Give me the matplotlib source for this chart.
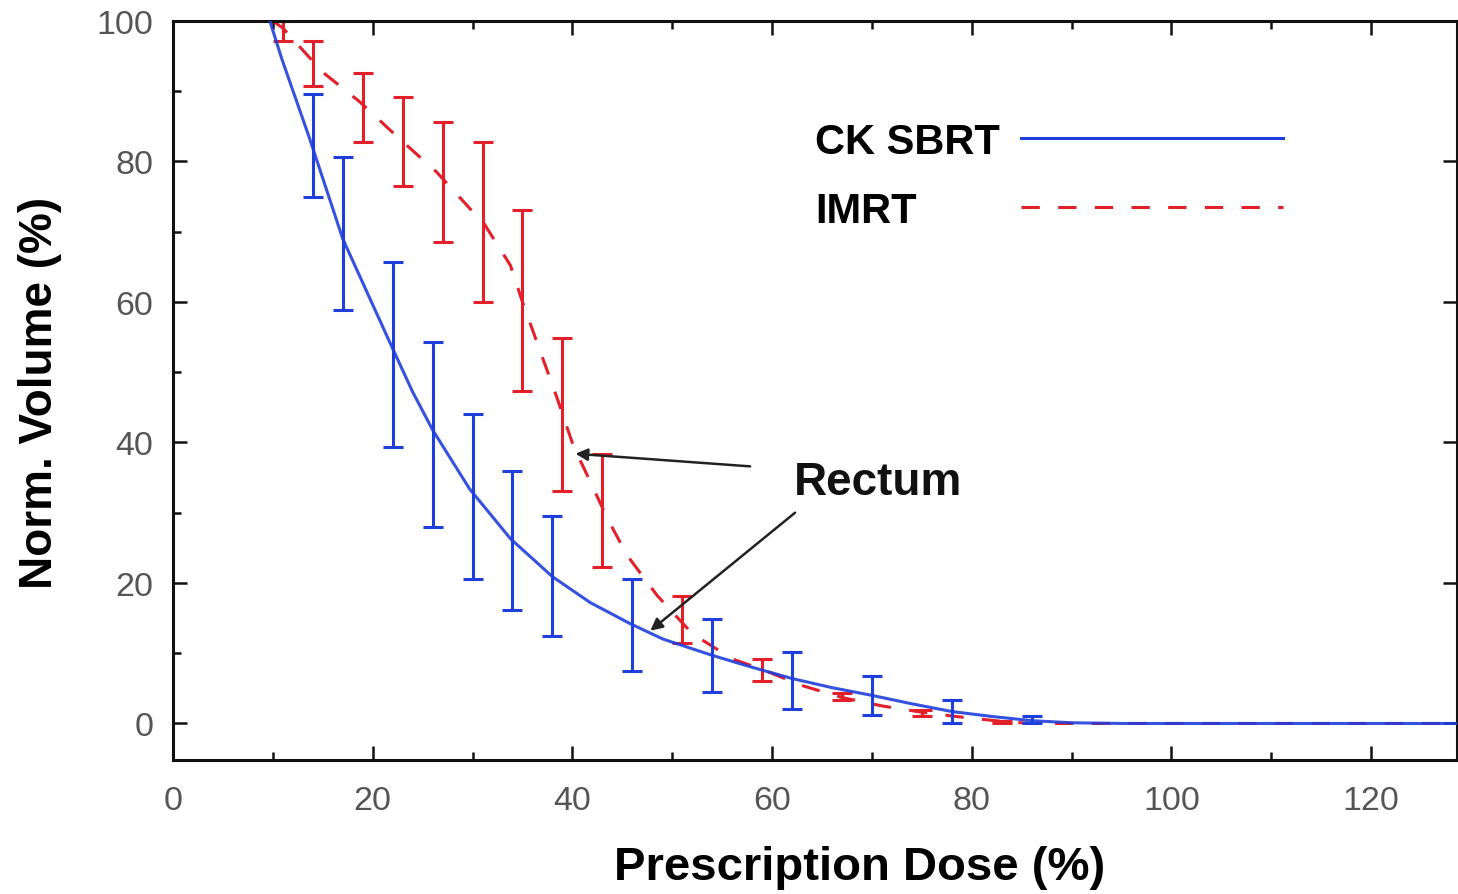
import matplotlib
matplotlib.use("Agg")
import matplotlib.pyplot as plt
import numpy as np

plt.rcParams['font.family'] = ['Liberation Sans', 'DejaVu Sans']

# ---- data ----
# CK SBRT mean DVH curve
ck_curve_x = [9.7, 10.9, 13.7, 17.0, 21.7, 24.0, 26.0, 29.7, 33.8, 38.0, 41.8, 45.8, 49.1, 54, 58, 62, 66, 70, 74, 78, 82, 86, 90, 95, 130]
ck_curve_y = [100, 94.6, 83.2, 69.0, 54.3, 47.2, 41.8, 33.4, 26.3, 20.9, 17.2, 14.2, 12.0, 9.7, 8.0, 6.4, 5.1, 4.0, 2.8, 1.7, 1.0, 0.4, 0.1, 0, 0]
# CK SBRT error bars
ck_err_x = [14, 17, 22, 26, 30, 34, 38, 46, 54, 62, 70, 78, 86]
ck_err_lo = [75.0, 58.9, 39.4, 28.0, 20.5, 16.1, 12.5, 7.4, 4.5, 2.1, 1.2, 0.0, 0.1]
ck_err_hi = [89.6, 80.7, 65.7, 54.3, 44.1, 36.0, 29.6, 20.5, 14.9, 10.2, 6.8, 3.4, 1.1]

# IMRT mean DVH curve
imrt_curve_x = [10, 11, 15, 18.7, 22.4, 26.4, 29.8, 31, 33.8, 35, 38.5, 40.1, 41.8, 43.5, 45.5, 48.5, 52, 56, 59, 63, 67, 71, 75, 79, 83, 86, 130]
imrt_curve_y = [100, 99, 92.7, 88.5, 83.6, 78.5, 73.2, 71.5, 65.2, 60, 46.2, 39.5, 34.4, 29.2, 23.9, 18.2, 12.8, 9.2, 7.7, 5.4, 3.7, 2.5, 1.6, 0.9, 0.3, 0, 0]
# IMRT error bars
imrt_err_x = [11, 14, 19, 23, 27, 31, 35, 39, 43, 51, 59, 67, 75, 83]
imrt_err_lo = [97.2, 90.8, 82.8, 76.5, 68.6, 60.0, 47.4, 33.1, 22.3, 11.4, 6.1, 3.3, 1.1, 0.0]
imrt_err_hi = [100.0, 97.2, 92.6, 89.2, 85.6, 82.8, 73.1, 54.9, 38.3, 18.2, 9.2, 4.3, 1.9, 0.4]

x_ticks = [0, 20, 40, 60, 80, 100, 120]
y_ticks = [0, 20, 40, 60, 80, 100]

BLUE = '#1f3fdc'
RED = '#e3202a'

fig = plt.figure(figsize=(14.58, 8.95), dpi=100)
ax = fig.add_axes([173 / 1458, 1 - 761 / 895, (1457 - 173) / 1458, (761 - 22) / 895])

# curves
l_imrt, = ax.plot(imrt_curve_x, imrt_curve_y, color=RED, lw=2.2,
                  linestyle=(0, (6, 6)), label='IMRT', zorder=2)
l_ck, = ax.plot(ck_curve_x, ck_curve_y, color=BLUE, lw=2.2, label='CK SBRT',
                zorder=3, alpha=0.9)

# error bars
def draw_err(xs, lo, hi, color, z):
    lo = np.asarray(lo)
    hi = np.asarray(hi)
    mid = (lo + hi) / 2
    half = (hi - lo) / 2
    ax.errorbar(xs, mid, yerr=half, fmt='none', ecolor=color, elinewidth=2.2,
                capsize=7, capthick=2.2, zorder=z)

draw_err(imrt_err_x, imrt_err_lo, imrt_err_hi, RED, 2.5)
draw_err(ck_err_x, ck_err_lo, ck_err_hi, BLUE, 3.5)

ax.set_xlim(0, 128.6)
ax.set_ylim(-5.2, 100)
ax.set_xticks(x_ticks)
ax.set_yticks(y_ticks)
ax.set_xticks(np.arange(10, 130, 20), minor=True)
ax.set_yticks(np.arange(10, 100, 20), minor=True)

for s in ax.spines.values():
    s.set_linewidth(2.2)
    s.set_color('#111111')

ax.tick_params(which='major', direction='in', length=10, width=1.8,
               top=True, right=True, labelsize=24.5, labelcolor='#555555', color='#111111')
ax.tick_params(which='minor', direction='in', length=6, width=1.8,
               top=True, right=False, color='#111111')
ax.tick_params(axis='x', which='major', pad=18)
ax.tick_params(axis='y', which='major', pad=14)

ax.set_xlabel('Prescription Dose (%)', fontsize=34, fontweight='bold')
ax.xaxis.label.set_va('center')
ax.xaxis.set_label_coords(860 / 1458, 1 - 868 / 895, transform=fig.transFigure)
ax.set_ylabel('Norm. Volume (%)', fontsize=33, fontweight='bold')
ax.yaxis.label.set_va('center')
ax.yaxis.set_label_coords(40 / 1458, 1 - 393 / 895, transform=fig.transFigure)

# legend: text left-justified, line to the right, lines aligned in a column
LEG_FS = 30
leg_kw = dict(loc='center left', frameon=False, markerfirst=False,
              handlelength=6.3, borderpad=0, borderaxespad=0,
              prop={'weight': 'bold', 'size': LEG_FS})
anchor_x = (815 - 173) / 1284
leg1 = ax.legend(handles=[l_ck], bbox_to_anchor=(anchor_x, (761 - 143) / 739),
                 handletextpad=0.5, **leg_kw)
ax.add_artist(leg1)
leg2 = ax.legend(handles=[l_imrt], bbox_to_anchor=(anchor_x, (761 - 212) / 739),
                 handletextpad=0.5, **leg_kw)
renderer = fig.canvas.get_renderer()
w1 = leg1.get_texts()[0].get_window_extent(renderer).width
w2 = leg2.get_texts()[0].get_window_extent(renderer).width
fs_px = LEG_FS * fig.dpi / 72
leg2.remove()
leg2 = ax.legend(handles=[l_imrt], bbox_to_anchor=(anchor_x, (761 - 212) / 739),
                 handletextpad=0.5 + (w1 - w2) / fs_px, **leg_kw)
for lg in (leg1, leg2):
    for h in lg.legend_handles:
        h.set_alpha(1)

# annotation
ax.text(70.6, 34.4, 'Rectum', fontsize=33, fontweight='bold', ha='center',
        va='center', color='#111111')
arrow_kw = dict(arrowstyle='-|>', color='#222222', lw=1.8, mutation_scale=18,
                shrinkA=0, shrinkB=0)
ax.annotate('', xy=(40.3, 38.4), xytext=(57.8, 36.6), arrowprops=arrow_kw)
ax.annotate('', xy=(47.8, 13.2), xytext=(62.3, 30.0), arrowprops=arrow_kw)

fig.savefig('out.png', dpi=100)
